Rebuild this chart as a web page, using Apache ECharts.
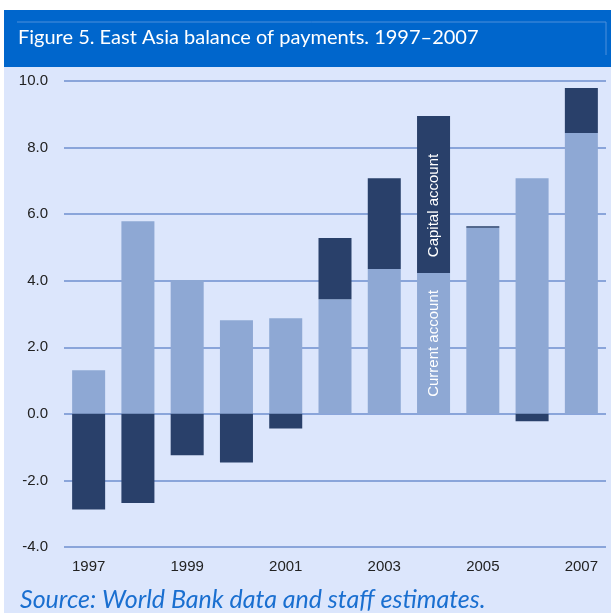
<!DOCTYPE html>
<html>
<head>
<meta charset="UTF-8">
<title>East Asia balance of payments</title>
<style>
  html, body { margin: 0; padding: 0; background: #fff; }
  #chart { width: 611px; height: 613px; }
</style>
</head>
<body>
<div id="chart"></div>
<script src="https://cdn.jsdelivr.net/npm/echarts@6/dist/echarts.min.js"></script>
<script>
// data (% of GDP)
var years = ['1997', '1998', '1999', '2000', '2001', '2002', '2003', '2004', '2005', '2006', '2007'];
var currentAccount = [1.31, 5.79, 4.02, 2.81, 2.87, 3.44, 4.35, 4.23, 5.59, 7.08, 8.44];
var capitalAccount = [-2.87, -2.68, -1.24, -1.46, -0.44, 1.84, 2.73, 4.72, 0.05, -0.22, 1.35];
var yTicks = [-4, -2, 0, 2, 4, 6, 8, 10];

var labelYear = '2004';
var narrow = '"Liberation Sans", Arial, sans-serif';

function withLabel(values, text, pos) {
  return values.map(function (v, i) {
    if (years[i] !== labelYear) return v;
    return {
      value: v,
      label: {
        show: true,
        formatter: text,
        rotate: 90,
        position: pos,
        align: 'center',
        verticalAlign: 'middle',
        color: '#fff',
        fontSize: 15,
        fontFamily: narrow
      }
    };
  });
}

var chart = echarts.init(document.getElementById('chart'));

chart.setOption({
  backgroundColor: '#dce6fc',
  animation: false,
  graphic: [
    { type: 'rect', shape: { x: 0, y: 0, width: 611, height: 10 }, style: { fill: '#fff' }, z: -1 },
    { type: 'rect', shape: { x: 0, y: 0, width: 4, height: 613 }, style: { fill: '#fff' }, z: -1 },
    { type: 'rect', shape: { x: 4, y: 10, width: 607, height: 57 }, style: { fill: '#0066cc' }, z: -1 },
    { type: 'polyline', shape: { points: [[17, 22], [606, 22], [606, 55]] },
      style: { stroke: '#4d8fdb', lineWidth: 1, fill: null }, z: 0 },
    { type: 'text', left: 18, top: 28,
      style: { text: 'Figure 5. East Asia balance of payments. 1997\u20132007',
        fill: '#fff', font: '20px Lato, "Open Sans", sans-serif' } },
    { type: 'text', left: 20, top: 587,
      style: { text: 'Source: World Bank data and staff estimates.',
        fill: '#1a6fd0', font: 'italic 25px Lato, "Open Sans", sans-serif' } }
  ],
  grid: { left: 64, right: 5, top: 81, bottom: 66 },
  xAxis: {
    type: 'category',
    data: years,
    axisLine: { show: false },
    axisTick: { show: false },
    axisLabel: {
      interval: 1,
      margin: 12,
      color: '#222',
      fontSize: 15,
      fontFamily: narrow
    }
  },
  yAxis: {
    type: 'value',
    min: yTicks[0],
    max: yTicks[yTicks.length - 1],
    interval: 2,
    axisLine: { show: false },
    axisTick: { show: false },
    axisLabel: {
      margin: 16,
      color: '#222',
      fontSize: 15,
      fontFamily: narrow,
      formatter: function (v) { return v.toFixed(1); }
    },
    splitLine: { lineStyle: { color: '#6f8fcf', width: 1.5 } }
  },
  series: [
    {
      name: 'Current account',
      type: 'bar',
      stack: 'bop',
      barWidth: '67%',
      itemStyle: { color: '#8ea8d4' },
      data: withLabel(currentAccount, 'Current account', ['50%', '50%']),
      z: 3
    },
    {
      name: 'Capital account',
      type: 'bar',
      stack: 'bop',
      barWidth: '67%',
      itemStyle: { color: '#29406a' },
      data: withLabel(capitalAccount, 'Capital account', ['50%', '57%']),
      z: 3
    }
  ]
});
</script>
</body>
</html>
